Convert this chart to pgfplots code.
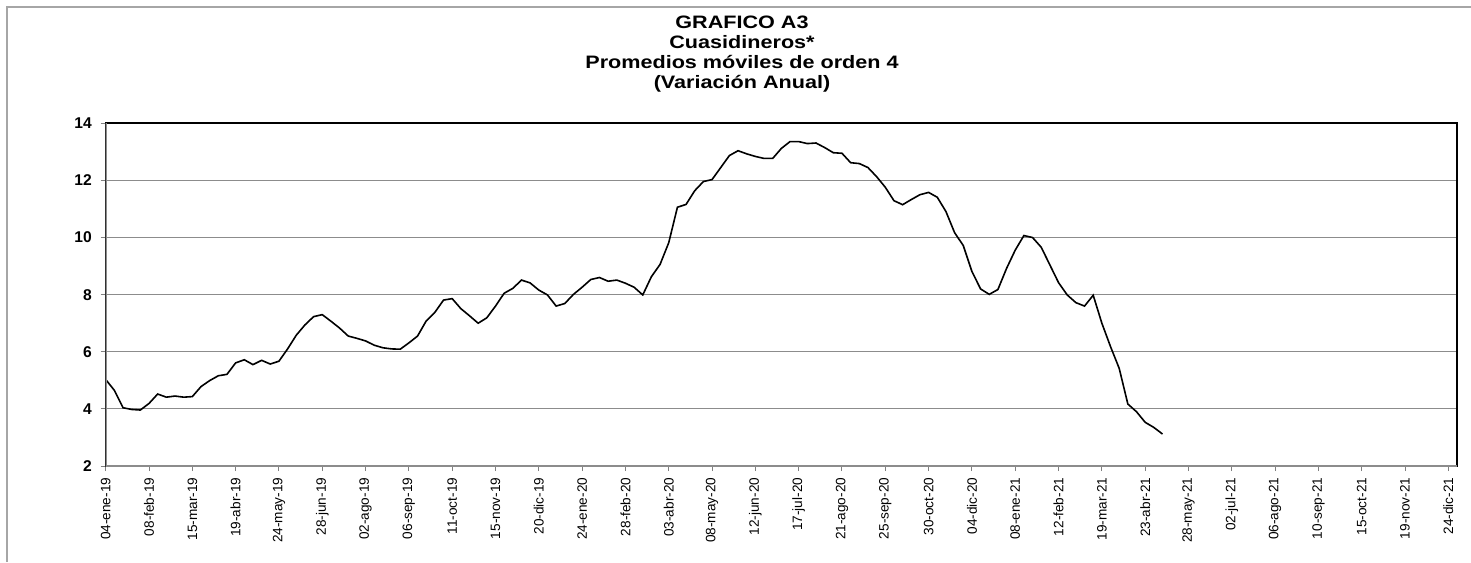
\documentclass[border=0pt]{standalone}
\usepackage{fontspec}
\setmainfont{Liberation Sans}
\usepackage{pgfplots}
\pgfplotsset{compat=1.18}
\newcommand{\ttl}[1]{\scalebox{1.2}[1]{#1}}
\begin{document}
\begin{tikzpicture}[x=0.5pt,y=0.5pt]
\path[use as bounding box] (0,0) rectangle (1471,562);
\draw[gray!70, line width=0.6pt] (7,0) -- (7,555) -- (1471,555);
\node[font=\bfseries\fontsize{9}{10}\selectfont, anchor=base] at (742,533) {\ttl{GRAFICO A3}};
\node[font=\bfseries\fontsize{9}{10}\selectfont, anchor=base] at (742,513) {\ttl{Cuasidineros*}};
\node[font=\bfseries\fontsize{9}{10}\selectfont, anchor=base] at (742,493) {\ttl{Promedios móviles de orden 4}};
\node[font=\bfseries\fontsize{9}{10}\selectfont, anchor=base] at (742,473) {\ttl{(Variación Anual)}};
\begin{axis}[
  at={(52.85pt,48pt)}, anchor=south west,
  scale only axis, width=675.65pt, height=171.35pt,
  xmin=0, xmax=156, ymin=2, ymax=14,
  xtick={0,5,...,155},
  xticklabels={04-ene-19,08-feb-19,15-mar-19,19-abr-19,24-may-19,28-jun-19,02-ago-19,06-sep-19,11-oct-19,15-nov-19,20-dic-19,24-ene-20,28-feb-20,03-abr-20,08-may-20,12-jun-20,17-jul-20,21-ago-20,25-sep-20,30-oct-20,04-dic-20,08-ene-21,12-feb-21,19-mar-21,23-abr-21,28-may-21,02-jul-21,06-ago-21,10-sep-21,15-oct-21,19-nov-21,24-dic-21},
  ytick={2,4,...,14},
  xtick pos=left, ytick pos=left,
  ymajorgrids, grid style={gray!90, line width=0.5pt},
  axis line style={black, line width=0.9pt},
  tick align=outside, major tick length=2.5pt,
  tick style={gray, line width=0.5pt},
  /pgf/number format/assume math mode=true,
  x tick label style={rotate=90, anchor=east, font=\fontsize{6.8}{7}\selectfont, inner sep=3.2pt},
  y tick label style={font=\bfseries\fontsize{7.8}{8}\selectfont, inner sep=4.3pt},
]
\addplot[black, line width=0.8pt, mark=none] table {
x y
0 5.03
1 4.65
2 4.04
3 3.98
4 3.96
5 4.19
6 4.52
7 4.41
8 4.45
9 4.41
10 4.43
11 4.78
12 4.99
13 5.16
14 5.21
15 5.61
16 5.72
17 5.55
18 5.70
19 5.57
20 5.67
21 6.10
22 6.58
23 6.94
24 7.23
25 7.30
26 7.07
27 6.83
28 6.55
29 6.47
30 6.38
31 6.23
32 6.14
33 6.10
34 6.09
35 6.31
36 6.55
37 7.08
38 7.38
39 7.81
40 7.86
41 7.51
42 7.26
43 7.00
44 7.19
45 7.60
46 8.05
47 8.22
48 8.51
49 8.41
50 8.16
51 7.99
52 7.60
53 7.69
54 8.01
55 8.26
56 8.53
57 8.60
58 8.47
59 8.51
60 8.40
61 8.26
62 7.99
63 8.63
64 9.06
65 9.82
66 11.06
67 11.16
68 11.64
69 11.96
70 12.03
71 12.45
72 12.87
73 13.04
74 12.93
75 12.84
76 12.77
77 12.77
78 13.12
79 13.36
80 13.36
81 13.29
82 13.31
83 13.15
84 12.97
85 12.95
86 12.62
87 12.59
88 12.45
89 12.13
90 11.76
91 11.29
92 11.15
93 11.33
94 11.50
95 11.58
96 11.41
97 10.91
98 10.17
99 9.72
100 8.81
101 8.20
102 8.01
103 8.18
104 8.92
105 9.56
106 10.07
107 10.00
108 9.66
109 9.04
110 8.42
111 7.99
112 7.72
113 7.60
114 7.98
115 7.00
116 6.18
117 5.42
118 4.17
119 3.90
120 3.53
121 3.35
122 3.12
};
\draw[gray!90, line width=0.9pt] (rel axis cs:0,1) -- (rel axis cs:0,0) -- (rel axis cs:1,0);
\end{axis}
\end{tikzpicture}
\end{document}
